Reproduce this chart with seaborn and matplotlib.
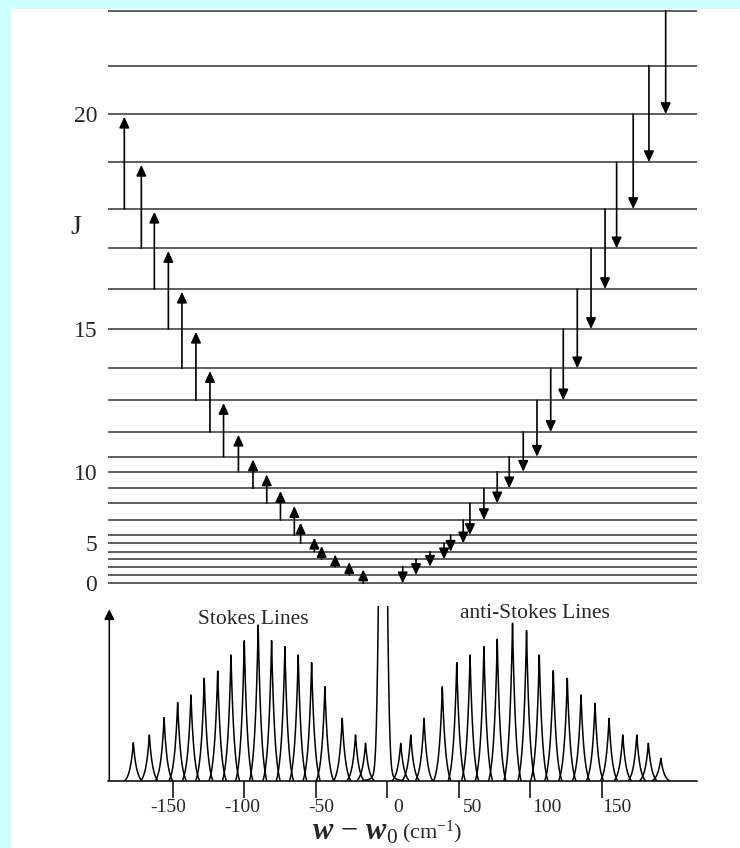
import numpy as np
import pandas as pd
import matplotlib
matplotlib.use('Agg')
import matplotlib.pyplot as plt
from matplotlib.patches import Rectangle
from matplotlib.transforms import ScaledTranslation
import seaborn as sns

# ---- rotational levels J = 0..22 (diagram height, drawing units) ----
J_levels = list(range(23))
level_height = [0, 8.3, 16.6, 24, 31.6, 40, 48.3, 63.3, 80, 95, 111.6, 126.6,
                151.3, 183, 215, 254.3, 294.3, 335, 374.3, 421.2, 469.3, 517.6, 572.6]
J_ticks = [0, 5, 10, 15, 20]

# ---- transition arrows (dJ = +/-2), x in cm-1, indexed by lower J ----
stokes_J = list(range(19))
stokes_x = [-16.8, -26.6, -36.4, -45.9, -51.0, -60.6, -65.0, -74.7, -84.3, -93.9,
            -104.1, -114.5, -124.0, -133.8, -143.6, -153.1, -162.9, -172.0, -183.9]
anti_J = list(range(21))
anti_x = [10.8, 20.1, 29.9, 39.7, 44.3, 53.1, 57.8, 67.6, 76.9, 85.3, 95.1,
          104.7, 114.3, 123.1, 132.9, 142.5, 152.3, 160.4, 172.0, 183.0, 194.7]

# ---- Raman spectrum ----
stokes_shift = [-177.6, -166.4, -156.1, -146.6, -137.3, -128.0, -118.6, -109.3, -100.0,
                -90.3, -80.9, -71.6, -62.3, -52.9, -43.6, -31.5, -22.2, -15.2]
stokes_int = [38, 45.7, 63, 78, 85.7, 102.4, 109.7, 125.7, 140,
              155.7, 140, 134, 125.7, 118, 94, 62.4, 45.7, 37.4]
anti_shift = [9.4, 16.4, 25.7, 38.5, 48.6, 57.9, 67.6, 76.9, 87.6, 97.4,
              106.3, 116.1, 125.9, 135.5, 145.3, 155.1, 164.7, 174.5, 182.6, 191.3]
anti_int = [37.4, 45.7, 62.4, 94, 118, 125.7, 134, 141.4, 157.4, 150,
            125.7, 110, 102.4, 85.7, 77.4, 62.4, 45.7, 45.7, 37.4, 22.4]
rayleigh_shift = -3.0
rayleigh_int = 560

xticks = [-150, -100, -50, 0, 50, 100, 150]
xtick_shift_pt = [-3.4, -1.3, 3.7, 7.9, 10.1, 12.0, 11.0]

sns.set_style('white')
plt.rcParams['font.family'] = ['Liberation Serif', 'DejaVu Serif']
plt.rcParams['mathtext.fontset'] = 'custom'
plt.rcParams['mathtext.rm'] = 'Liberation Serif'
plt.rcParams['mathtext.it'] = 'Liberation Serif:italic'
plt.rcParams['mathtext.bf'] = 'Liberation Serif:italic:bold'

W, H = 740, 848
fig = plt.figure(figsize=(W / 100, H / 100), dpi=100)
fig.patch.set_facecolor('#CCFFFF')
fig.add_artist(Rectangle((11 / W, 0), 1, 1 - 9 / H, transform=fig.transFigure,
                         facecolor='white', edgecolor='none', zorder=-1))

left, right = 108.3, 696.7
xlim = (-195.1, 216.4)

# ---- level diagram ----
ax_lv = fig.add_axes([left / W, 1 - 583.3 / H, (right - left) / W, (583.3 - 10.7) / H])
ax_lv.set_facecolor('none')
ax_lv.hlines(level_height, xlim[0], xlim[1], color='#333333', lw=1.1, clip_on=False)
ax_lv.set_xlim(xlim)
ax_lv.set_ylim(0, level_height[-1])
ax_lv.set_xticks([])
ax_lv.set_yticks([level_height[j] for j in J_ticks], labels=[str(j) for j in J_ticks])
ax_lv.tick_params(axis='y', length=5, width=1.1, color='#333333', pad=3, labelsize=17)
for s in ax_lv.spines.values():
    s.set_visible(False)
ax_lv.set_ylabel('J', rotation=0, fontsize=20, va='center', ha='center')
ax_lv.yaxis.set_label_coords(-0.055, 0.622)

head = '-|>,head_length=0.65,head_width=0.3'
for j, x in zip(stokes_J, stokes_x):
    ax_lv.annotate('', xy=(x, level_height[j + 2]), xytext=(x, level_height[j]),
                   annotation_clip=False,
                   arrowprops=dict(arrowstyle=head, mutation_scale=10, lw=1.2,
                                   color='black', shrinkA=0, shrinkB=2))
for j, x in zip(anti_J, anti_x):
    ax_lv.annotate('', xy=(x, level_height[j]), xytext=(x, level_height[j + 2]),
                   annotation_clip=False,
                   arrowprops=dict(arrowstyle=head, mutation_scale=10, lw=1.2,
                                   color='black', shrinkA=0, shrinkB=0))

# ---- spectrum ----
rows = []
decay, cut = 2.4, 6.0
for pid, (c, h) in enumerate(zip(stokes_shift + anti_shift, stokes_int + anti_int)):
    xs = np.linspace(c - cut, c + cut, 121)
    L = np.exp(-np.abs(xs - c) / decay)
    L0 = np.exp(-cut / decay)
    for x, y in zip(xs, h * (L - L0) / (1 - L0)):
        rows.append({'peak': pid, 'shift': x, 'I': y})
xs = np.linspace(rayleigh_shift - 14, rayleigh_shift + 14, 401)
ys = rayleigh_int * np.exp(-(xs - rayleigh_shift) ** 2 / (2 * 2.1 ** 2)) \
    + 9 * np.exp(-(xs - rayleigh_shift) ** 2 / (2 * 5.0 ** 2))
for x, y in zip(xs, ys):
    rows.append({'peak': -1, 'shift': x, 'I': y})
spec = pd.DataFrame(rows)

ax_sp = fig.add_axes([left / W, 1 - 780.7 / H, (right - left) / W, (780.7 - 606) / H])
ax_sp.set_facecolor('none')
sns.lineplot(data=spec, x='shift', y='I', units='peak', estimator=None, sort=False,
             color='black', lw=1.1, ax=ax_sp, legend=False)
ax_sp.set_xlim(xlim)
ax_sp.set_ylim(0, 174.7)
ax_sp.set_xlabel('')
ax_sp.set_ylabel('')
ax_sp.set_yticks([])
for k in ['top', 'right', 'left']:
    ax_sp.spines[k].set_visible(False)
ax_sp.spines['bottom'].set_linewidth(1.1)
ax_sp.spines['bottom'].set_color('black')
ax_sp.annotate('', xy=(xlim[0] + 0.7, 171.4), xytext=(xlim[0] + 0.7, 0),
               annotation_clip=False,
               arrowprops=dict(arrowstyle='-|>,head_length=0.6,head_width=0.3',
                               mutation_scale=10, lw=1.1, color='black',
                               shrinkA=0, shrinkB=0))
ax_sp.set_xticks(xticks, labels=[str(t) for t in xticks])
ax_sp.tick_params(axis='x', direction='out', length=12, width=1.1, color='black',
                  pad=1.5, labelsize=14, bottom=True)
for lbl, dx in zip(ax_sp.get_xticklabels(), xtick_shift_pt):
    lbl.set_transform(lbl.get_transform() + ScaledTranslation(dx / 72, 0, fig.dpi_scale_trans))

ax_sp.text(-94, 156.4, 'Stokes Lines', ha='center', va='baseline', fontsize=15.5)
ax_sp.text(103, 163, 'anti-Stokes Lines', ha='center', va='baseline', fontsize=15.5)

fig.text(398 / W, 1 - 840 / H, r'$\mathbf{w}\,-\,\mathbf{w}_0$', ha='right', va='baseline', fontsize=22)
fig.text(402 / W, 1 - 838 / H, r'(cm$^{-1}$)', ha='left', va='baseline', fontsize=16)

fig.savefig('out.png', dpi=100, facecolor=fig.get_facecolor())
